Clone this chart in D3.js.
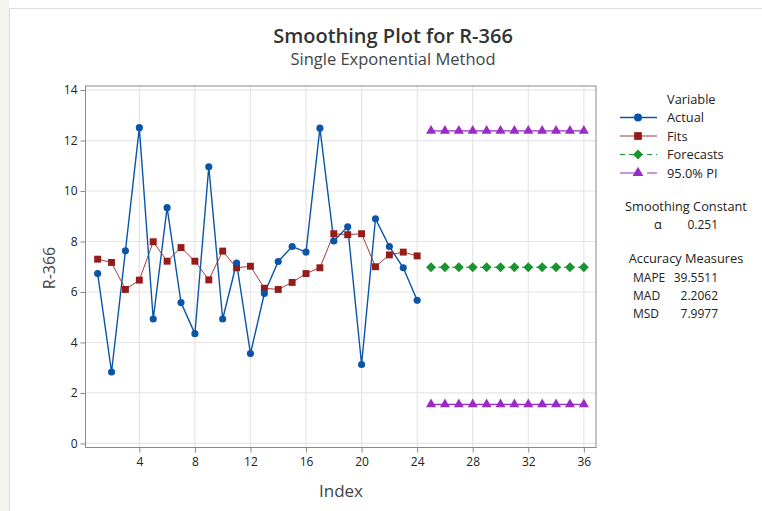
<!DOCTYPE html>
<html>
<head>
<meta charset="utf-8">
<script src="https://cdn.jsdelivr.net/npm/d3@7"></script>
<style>
  body { margin: 0; background: #fff; }
  svg text { font-family: "Segoe UI", "Open Sans", "Noto Sans", sans-serif; }
</style>
</head>
<body>
<svg id="chart" width="762" height="511"></svg>
<script>
// values
var index = d3.range(1, 25);
var actual = [6.73, 2.83, 7.63, 12.51, 4.93, 9.34, 5.58, 4.35, 10.96, 4.93, 7.15, 3.56,
  5.94, 7.21, 7.80, 7.58, 12.49, 8.02, 8.58, 3.13, 8.90, 7.80, 6.96, 5.67];
var fits = [7.30, 7.17, 6.10, 6.47, 7.99, 7.22, 7.76, 7.22, 6.48, 7.62, 6.96, 7.02,
  6.15, 6.10, 6.38, 6.73, 6.96, 8.31, 8.27, 8.31, 7.00, 7.47, 7.58, 7.43];
var fcIndex = d3.range(25, 37);
var forecasts = [6.98, 6.98, 6.98, 6.98, 6.98, 6.98, 6.98, 6.98, 6.98, 6.98, 6.98, 6.98];
var piUpper = [12.38, 12.38, 12.38, 12.38, 12.38, 12.38, 12.38, 12.38, 12.38, 12.38, 12.38, 12.38];
var piLower = [1.55, 1.55, 1.55, 1.55, 1.55, 1.55, 1.55, 1.55, 1.55, 1.55, 1.55, 1.55];
var xTicks = [4, 8, 12, 16, 20, 24, 28, 32, 36];
var yTicks = [0, 2, 4, 6, 8, 10, 12, 14];
var legendNames = ['Actual', 'Fits', 'Forecasts', '95.0% PI'];
var measures = [['MAPE', '39.5511'], ['MAD', '2.2062'], ['MSD', '7.9977']];
var alpha = '0.251';

var G = {
  col: { actual: '#0a55a8', fits: '#961b1b', fitsLine: '#a83a3a', fc: '#18952e', pi: '#9a2cc6' },
  frame: { left: 85.5, right: 596, top: 86, bottom: 447.5 }
};

var svg = d3.select('#chart');
var F = G.frame;

// outer border + faint strip at the left edge
svg.append('rect').attr('x', 0).attr('y', 0).attr('width', 9).attr('height', 511)
  .style('fill', '#f4f3ee');
svg.append('rect').attr('x', 9.5).attr('y', 8.5).attr('width', 800).attr('height', 600)
  .style('fill', '#fff').style('stroke', '#dedede');

var x = d3.scaleLinear().domain([0.125, 36.875]).range([F.left, F.right]);
var y = d3.scaleLinear().domain([-0.16, 14.16]).range([F.bottom, F.top]);

// grid
var grid = svg.append('g');
grid.selectAll('.gx').data(xTicks).enter().append('line')
  .attr('x1', function(d) { return x(d); }).attr('x2', function(d) { return x(d); })
  .attr('y1', F.top).attr('y2', F.bottom)
  .style('stroke', '#e6e6e6').style('stroke-width', 1.2);
grid.selectAll('.gy').data(yTicks).enter().append('line')
  .attr('x1', F.left).attr('x2', F.right)
  .attr('y1', function(d) { return y(d); }).attr('y2', function(d) { return y(d); })
  .style('stroke', '#e6e6e6').style('stroke-width', 1.2);

svg.append('rect')
  .attr('x', F.left).attr('y', F.top)
  .attr('width', F.right - F.left).attr('height', F.bottom - F.top)
  .style('fill', 'none').style('stroke', '#8a8a8a');

// axes
var ax = svg.append('g').attr('transform', 'translate(0,' + F.bottom + ')')
  .call(d3.axisBottom(x).tickValues(xTicks).tickSize(5).tickPadding(5));
var ay = svg.append('g').attr('transform', 'translate(' + F.left + ',0)')
  .call(d3.axisLeft(y).tickValues(yTicks).tickSize(5).tickPadding(3));
[ax, ay].forEach(function(a) {
  a.select('.domain').remove();
  a.selectAll('line').style('stroke', '#8a8a8a');
  a.selectAll('text').style('font-size', '12px').style('fill', '#222');
});

// series
function series(xs, ys, color, width, dash) {
  svg.append('path')
    .datum(d3.zip(xs, ys))
    .attr('d', d3.line().x(function(d) { return x(d[0]); }).y(function(d) { return y(d[1]); }))
    .style('fill', 'none').style('stroke', color).style('stroke-width', width)
    .style('stroke-dasharray', dash || null);
}
function markers(xs, ys, type, size, color) {
  svg.append('g').selectAll('path').data(d3.zip(xs, ys)).enter().append('path')
    .attr('transform', function(d) { return 'translate(' + x(d[0]) + ',' + y(d[1]) + ')'; })
    .attr('d', d3.symbol().type(type).size(size))
    .style('fill', color);
}
var diamond = {
  draw: function(ctx, s) {
    var r = Math.sqrt(s) * 0.62;
    ctx.moveTo(0, -r); ctx.lineTo(r, 0); ctx.lineTo(0, r); ctx.lineTo(-r, 0); ctx.closePath();
  }
};

series(index, fits, G.col.fitsLine, 1, null);
series(index, actual, G.col.actual, 1.4, null);
markers(index, fits, d3.symbolSquare, 48, G.col.fits);
markers(index, actual, d3.symbolCircle, 40, G.col.actual);

series(fcIndex, forecasts, G.col.fc, 1.2, '4,3');
series(fcIndex, piUpper, G.col.pi, 1.2, null);
series(fcIndex, piLower, G.col.pi, 1.2, null);
markers(fcIndex, forecasts, diamond, 64, G.col.fc);
markers(fcIndex, piUpper, d3.symbolTriangle, 44, G.col.pi);
markers(fcIndex, piLower, d3.symbolTriangle, 44, G.col.pi);

// titles
svg.append('text').attr('x', 393).attr('y', 43).attr('text-anchor', 'middle')
  .style('font-size', '20px').style('font-weight', 600).style('fill', '#333')
  .text('Smoothing Plot for R-366');
svg.append('text').attr('x', 393).attr('y', 65).attr('text-anchor', 'middle')
  .style('font-size', '16.5px').style('fill', '#444')
  .text('Single Exponential Method');
svg.append('text').attr('x', 341).attr('y', 497).attr('text-anchor', 'middle')
  .style('font-size', '17px').style('fill', '#444').text('Index');
svg.append('text').attr('transform', 'translate(55,268) rotate(-90)').attr('text-anchor', 'middle')
  .style('font-size', '16px').style('fill', '#444').text('R-366');

// legend
var lg = svg.append('g').style('font-size', '12.8px').style('fill', '#222');
lg.append('text').attr('x', 667).attr('y', 104).text('Variable');
var lgStyle = [
  { c: G.col.actual, sym: d3.symbolCircle, s: 50, dash: null, w: 1.4 },
  { c: G.col.fitsLine, mc: G.col.fits, sym: d3.symbolSquare, s: 60, dash: null, w: 1.2 },
  { c: G.col.fc, sym: diamond, s: 64, dash: '5,4', w: 1.2 },
  { c: G.col.pi, sym: d3.symbolTriangle, s: 50, dash: '21,6,10', w: 1.2 }
];
legendNames.forEach(function(name, i) {
  var yy = 117.5 + i * 18.5;
  var st = lgStyle[i];
  lg.append('line').attr('x1', 620).attr('x2', 657).attr('y1', yy).attr('y2', yy)
    .style('stroke', st.c).style('stroke-width', st.w).style('stroke-dasharray', st.dash);
  lg.append('path').attr('transform', 'translate(638,' + yy + ')')
    .attr('d', d3.symbol().type(st.sym).size(st.s)).style('fill', st.mc || st.c);
  lg.append('text').attr('x', 667).attr('y', yy + 4.5).text(name);
});

lg.append('text').attr('x', 686).attr('y', 211).attr('text-anchor', 'middle').text('Smoothing Constant');
lg.append('text').attr('x', 654).attr('y', 229).text('α');
lg.append('text').attr('x', 718).attr('y', 229).attr('text-anchor', 'end')
  .style('font-size', '12px').text(alpha);
lg.append('text').attr('x', 686).attr('y', 263).attr('text-anchor', 'middle').text('Accuracy Measures');
measures.forEach(function(m, i) {
  var yy = 282 + i * 18;
  lg.append('text').attr('x', 633).attr('y', yy).style('font-size', '12px').text(m[0]);
  lg.append('text').attr('x', 718).attr('y', yy).attr('text-anchor', 'end')
    .style('font-size', '12px').text(m[1]);
});
</script>
</body>
</html>
